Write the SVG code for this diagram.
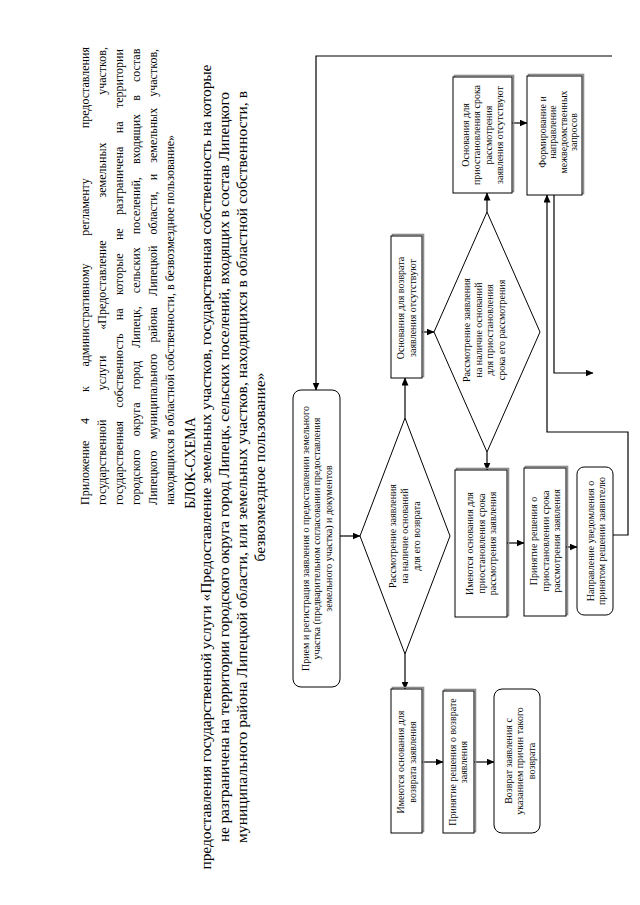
<svg xmlns="http://www.w3.org/2000/svg" width="640" height="905" viewBox="0 0 640 905">
<defs>
<marker id="ah" markerUnits="userSpaceOnUse" markerWidth="8" markerHeight="7" refX="7.5" refY="3.5" orient="auto">
<path d="M0,0 L8,3.5 L0,7 z" fill="#000"/>
</marker>
<style>
.box{fill:#fff;stroke:#000;stroke-width:1}
.sh{fill:none;stroke:#8c8c8c;stroke-width:1.6}
.t text{font-family:"Liberation Serif","Times New Roman",serif;font-size:10px;text-anchor:middle;fill:#000}
.hd{font-family:"Liberation Serif","Times New Roman",serif;font-size:12px;fill:#000}
.ti{font-family:"Liberation Serif","Times New Roman",serif;font-size:15.5px;fill:#000;text-anchor:middle}
.con{fill:none;stroke:#000;stroke-width:1.2}
.arr{marker-end:url(#ah)}
</style>
</defs>
<rect width="640" height="905" fill="#fff"/>

<g id="page-text" transform="translate(0,905) rotate(-90)">
<g id="header" class="hd">
<text x="400" y="88.5">Приложение</text>
<text x="484" y="88.5" text-anchor="middle">4</text>
<text x="516" y="88.5" text-anchor="middle">к</text>
<text x="590" y="88.5" text-anchor="middle">административному</text>
<text x="698" y="88.5" text-anchor="middle">регламенту</text>
<text x="858" y="88.5" text-anchor="end">предоставления</text>
<text x="400" y="105.5">государственной</text>
<text x="532" y="105.5" text-anchor="middle">услуги</text>
<text x="620" y="105.5" text-anchor="middle">«Предоставление</text>
<text x="735" y="105.5" text-anchor="middle">земельных</text>
<text x="858" y="105.5" text-anchor="end">участков,</text>
<text x="400" y="122.5" style="word-spacing:10.4px">государственная собственность на которые не разграничена на территории</text>
<text x="400" y="139.5" style="word-spacing:10.1px">городского округа город Липецк, сельских поселений, входящих в состав</text>
<text x="400" y="156.5" style="word-spacing:8.1px">Липецкого муниципального района Липецкой области, и земельных участков,</text>
<text x="400" y="173.5">находящихся в областной собственности, в безвозмездное пользование»</text>
</g>
<g id="title">
<text class="ti" x="442" y="195" style="font-size:14px">БЛОК-СХЕМА</text>
<text class="ti" x="438" y="211" textLength="805" lengthAdjust="spacing">предоставления государственной услуги «Предоставление земельных участков, государственная собственность на которые</text>
<text class="ti" x="438" y="229" textLength="750" lengthAdjust="spacing">не разграничена на территории городского округа город Липецк, сельских поселений, входящих в состав Липецкого</text>
<text class="ti" x="438" y="247" textLength="752" lengthAdjust="spacing">муниципального района Липецкой области, или земельных участков, находящихся в областной собственности, в</text>
<text class="ti" x="438" y="265">безвозмездное пользование»</text>
</g>
</g>

<g id="connectors">
<path class="con arr" d="M612,56 H316 V390"/>
<path class="con arr" d="M340,536 H360"/>
<path class="con arr" d="M405,418 V378"/>
<path class="con arr" d="M405,654 V689"/>
<path class="con arr" d="M422,762 H443"/>
<path class="con arr" d="M474,762 H494"/>
<path class="con arr" d="M422,332 H434"/>
<path class="con arr" d="M487,212 V193"/>
<path class="con arr" d="M487,452 V470"/>
<path class="con arr" d="M512,123 H527"/>
<path class="con arr" d="M507,543 H524"/>
<path class="con arr" d="M566,547 H577"/>
<path class="con arr" d="M613,535 H628 V432 H547 V195"/>
<path class="con arr" d="M554,195 V373 H593"/>
</g>

<g id="n1">
<rect class="box" x="293" y="390" width="47" height="297" rx="8"/>
<g class="t" transform="translate(316.5,538.5) rotate(-90)">
<text y="-8">Прием и регистрация заявления о предоставлении земельного</text>
<text y="3.5">участка (предварительном согласовании предоставления</text>
<text y="15">земельного участка) и документов</text>
</g>
</g>

<g id="d1">
<polygon class="box" points="360,536 405,418 450,536 405,654"/>
<g class="t" transform="translate(404,536) rotate(-90)">
<text y="-8.5">Рассмотрение заявления</text>
<text y="3.5">на наличие оснований</text>
<text y="15.5">для его возврата</text>
</g>
</g>

<g id="ok1">
<rect class="sh" x="392.5" y="234.5" width="31" height="142"/>
<rect class="box" x="391" y="236" width="31" height="142"/>
<g class="t" transform="translate(406.5,308) rotate(-90)">
<text y="-2.5">Основания для возврата</text>
<text y="9">заявления отсутствуют</text>
</g>
</g>

<g id="d2">
<polygon class="box" points="434,332 487,212 540,332 487,452"/>
<g class="t" transform="translate(484,330) rotate(-90)">
<text y="-13.75">Рассмотрение заявления</text>
<text y="-2.25">на наличие оснований</text>
<text y="9.25">для приостановления</text>
<text y="20.75">срока его рассмотрения</text>
</g>
</g>

<g id="bA">
<rect class="sh" x="454.5" y="75.5" width="59" height="116"/>
<rect class="box" x="453" y="77" width="59" height="116"/>
<g class="t" transform="translate(482.5,135) rotate(-90)">
<text y="-13.75">Основания для</text>
<text y="-2.25">приостановления срока</text>
<text y="9.25">рассмотрения</text>
<text y="20.75">заявления отсутствуют</text>
</g>
</g>

<g id="bF">
<rect class="sh" x="528.5" y="74.5" width="55" height="119"/>
<rect class="box" x="527" y="76" width="55" height="119"/>
<g class="t" transform="translate(557,132) rotate(-90)">
<text y="-11.5">Формирование и</text>
<text y="-1">направление</text>
<text y="9.5">межведомственных</text>
<text y="20">запросов</text>
</g>
</g>

<g id="bY">
<rect class="sh" x="456.5" y="468.5" width="52" height="147"/>
<rect class="box" x="455" y="470" width="52" height="147"/>
<g class="t" transform="translate(481,543.5) rotate(-90)">
<text y="-8">Имеются основания для</text>
<text y="3.5">приостановления срока</text>
<text y="15">рассмотрения заявления</text>
</g>
</g>

<g id="bP">
<rect class="sh" x="525.5" y="466.5" width="42" height="148"/>
<rect class="box" x="524" y="468" width="42" height="148"/>
<g class="t" transform="translate(545,541) rotate(-90)">
<text y="-8">Принятие решения о</text>
<text y="3.5">приостановлении срока</text>
<text y="15">рассмотрения заявления</text>
</g>
</g>

<g id="bN">
<rect class="box" x="577" y="467" width="36" height="148" rx="7"/>
<g class="t" transform="translate(596,541) rotate(-90)">
<text y="-2.5">Направление уведомления о</text>
<text y="9">принятом решении заявителю</text>
</g>
</g>

<g id="bR1">
<rect class="sh" x="392.5" y="687.5" width="31" height="144"/>
<rect class="box" x="391" y="689" width="31" height="144"/>
<g class="t" transform="translate(406.5,762) rotate(-90)">
<text y="-2.5">Имеются основания для</text>
<text y="9">возврата заявления</text>
</g>
</g>

<g id="bR2">
<rect class="sh" x="444.5" y="689.5" width="31" height="142"/>
<rect class="box" x="443" y="691" width="31" height="142"/>
<g class="t" transform="translate(458,762) rotate(-90)">
<text y="-2.5">Принятие решения о возврате</text>
<text y="9">заявления</text>
</g>
</g>

<g id="bR3">
<rect class="box" x="494" y="689" width="46" height="144" rx="8"/>
<g class="t" transform="translate(518,761) rotate(-90)">
<text y="-6.5">Возврат заявления с</text>
<text y="5">указанием причин такого</text>
<text y="16.5">возврата</text>
</g>
</g>
</svg>
